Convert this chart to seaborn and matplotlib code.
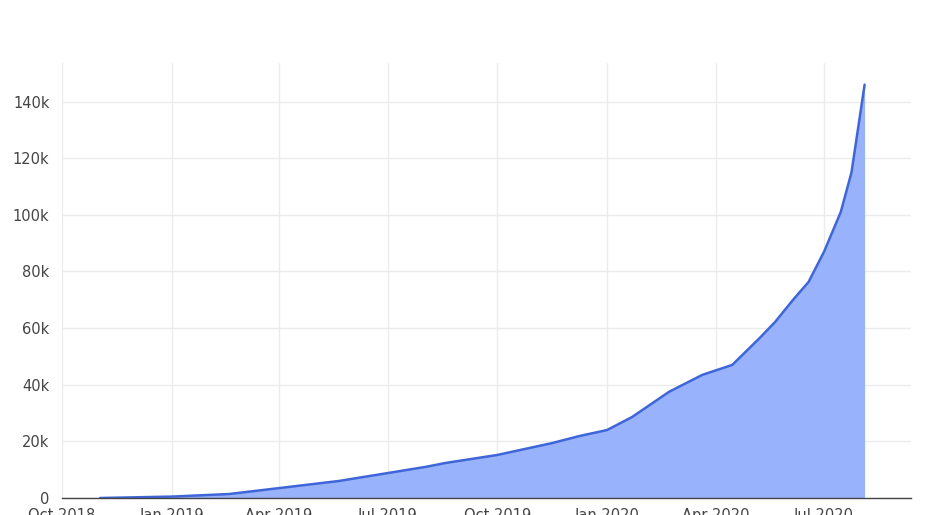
import matplotlib
matplotlib.use("Agg")
import matplotlib.pyplot as plt
import matplotlib.dates as mdates
import matplotlib.ticker as mticker
import pandas as pd
import seaborn as sns

dates = ["2018-11-02", "2019-01-01", "2019-02-18", "2019-04-01", "2019-05-21",
         "2019-07-01", "2019-08-02", "2019-08-19", "2019-10-01", "2019-11-16",
         "2019-12-09", "2020-01-01", "2020-01-22", "2020-02-22", "2020-03-21",
         "2020-04-15", "2020-05-08", "2020-05-21", "2020-06-05", "2020-06-18",
         "2020-07-01", "2020-07-15", "2020-07-24", "2020-08-04"]
values = [0, 500, 1400, 3500, 6000,
          8800, 11000, 12400, 15200, 19400,
          21900, 24000, 28600, 37500, 43500,
          47000, 56500, 62200, 70000, 76300,
          87000, 101000, 115000, 146000]
tick_dates = ["2018-10-01", "2019-01-01", "2019-04-01", "2019-07-01",
              "2019-10-01", "2020-01-01", "2020-04-01", "2020-07-01"]
y_ticks = [0, 20000, 40000, 60000, 80000, 100000, 120000, 140000]

df = pd.DataFrame({"date": pd.to_datetime(dates), "value": values})

sns.set_theme(style="whitegrid")
plt.rcParams["font.family"] = ["DejaVu Sans"]

fig = plt.figure(figsize=(9.25, 5.15), dpi=100)
ax = fig.add_axes([0.067, 0.033, 0.918, 0.845])

line_color = "#3f66d8"
fill_color = "#98b2fb"
ax.fill_between(df["date"], df["value"], 0, color=fill_color, linewidth=0, zorder=2)
sns.lineplot(data=df, x="date", y="value", ax=ax, color=line_color, linewidth=1.8, zorder=3)

ax.set_xlim(pd.Timestamp("2018-10-01"), pd.Timestamp("2020-09-12"))
ax.set_ylim(0, 153700)
ax.set_xticks(pd.to_datetime(tick_dates))
ax.xaxis.set_major_formatter(mdates.DateFormatter("%b %Y"))
ax.set_yticks(y_ticks)
ax.yaxis.set_major_formatter(mticker.FuncFormatter(lambda v, p: "0" if v == 0 else f"{int(v/1000)}k"))

ax.set_xlabel("")
ax.set_ylabel("")
ax.grid(True, color="#ebebeb", linewidth=1)
ax.set_facecolor("white")
for s in ["top", "right", "left"]:
    ax.spines[s].set_visible(False)
ax.spines["bottom"].set_visible(True)
ax.spines["bottom"].set_color("#444444")
ax.spines["bottom"].set_linewidth(1.0)
ax.spines["bottom"].set_zorder(4)
ax.tick_params(axis="both", colors="#444444", labelsize=10.5, length=0)
ax.tick_params(axis="x", pad=7)
ax.tick_params(axis="y", pad=9)

fig.savefig("out.png", dpi=100, facecolor="white")
